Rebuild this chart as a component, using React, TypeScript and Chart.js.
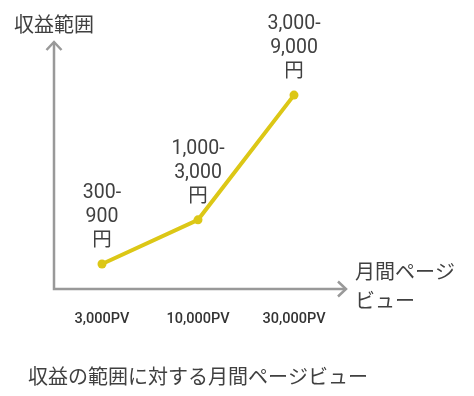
import React, { useEffect, useRef } from "react";
import { Chart, registerables } from "chart.js";

Chart.register(...registerables);

const categories = ["3,000PV", "10,000PV", "30,000PV"];
const revenueLevel = [1.01, 2.8, 7.85];
const revenueLow = ["300", "1,000", "3,000"];
const revenueHigh = ["900", "3,000", "9,000"];
const yAxisTitle = "収益範囲";
const xAxisTitleLines = ["月間ページ", "ビュー"];
const chartTitle = "収益の範囲に対する月間ページビュー";

const LINE_COLOR = "#DCC716";
const AXIS_COLOR = "#999999";
const TEXT_COLOR = "#404040";
const FONT = "Roboto, 'Noto Sans CJK JP', sans-serif";
const JP_FONT = "'Noto Sans CJK JP', Roboto, sans-serif";

const decorPlugin = {
  id: "decor",
  beforeDatasetsDraw(chart: any) {
    const { ctx, chartArea } = chart;
    const { left, right, top, bottom } = chartArea;
    ctx.save();
    ctx.strokeStyle = AXIS_COLOR;
    ctx.lineWidth = 2.5;
    ctx.lineJoin = "miter";
    ctx.beginPath();
    ctx.moveTo(left, top);
    ctx.lineTo(left, bottom);
    ctx.lineTo(right + 4, bottom);
    ctx.stroke();
    // arrowheads
    ctx.beginPath();
    ctx.moveTo(left - 7.5, top + 8);
    ctx.lineTo(left, top);
    ctx.lineTo(left + 7.5, top + 8);
    ctx.stroke();
    ctx.beginPath();
    ctx.moveTo(right + 4 - 8, bottom - 7.5);
    ctx.lineTo(right + 4, bottom);
    ctx.lineTo(right + 4 - 8, bottom + 7.5);
    ctx.stroke();
    ctx.restore();
  },
  afterDraw(chart: any) {
    const { ctx, chartArea, scales } = chart;
    const { left, right, bottom } = chartArea;
    const xs = scales.x;
    const ys = scales.y;
    ctx.save();
    ctx.fillStyle = TEXT_COLOR;
    ctx.textAlign = "center";
    ctx.textBaseline = "middle";

    // data labels
    ctx.font = `19.5px ${FONT}`;
    revenueLevel.forEach((v, i) => {
      const px = xs.getPixelForValue(i);
      const py = ys.getPixelForValue(v);
      const lines = [`${revenueLow[i]}-`, revenueHigh[i], "円"];
      lines.forEach((t, j) => {
        ctx.fillText(t, px, py - 22.5 - (lines.length - 1 - j) * 24);
      });
    });

    // x tick labels
    ctx.fillStyle = "#333333";
    ctx.font = `500 14.5px ${FONT}`;
    categories.forEach((c, i) => {
      ctx.fillText(c, xs.getPixelForValue(i), bottom + 30);
    });

    // y axis title
    ctx.fillStyle = TEXT_COLOR;
    ctx.font = `20px ${JP_FONT}`;
    ctx.fillText(yAxisTitle, left, 24);

    // x axis title
    ctx.textAlign = "left";
    xAxisTitleLines.forEach((t, j) => {
      ctx.fillText(t, 355, 271 + j * 29);
    });

    // chart title
    ctx.textAlign = "center";
    ctx.fillText(chartTitle, (left + right) / 2, 376);
    ctx.restore();
  },
};

export default function App() {
  const ref = useRef<HTMLCanvasElement>(null);
  useEffect(() => {
    if (!ref.current) return;
    const chart = new Chart(ref.current, {
      type: "line",
      data: {
        labels: categories,
        datasets: [
          {
            data: revenueLevel,
            borderColor: LINE_COLOR,
            backgroundColor: LINE_COLOR,
            borderWidth: 4,
            pointRadius: 4.5,
            pointBackgroundColor: LINE_COLOR,
            pointBorderWidth: 0,
            tension: 0,
          },
        ],
      },
      options: {
        responsive: false,
        animation: false,
        layout: { padding: { left: 54, right: 132, top: 42, bottom: 107 } },
        scales: {
          x: { type: "category", offset: true, display: false },
          y: { min: 0, max: 10, display: false },
        },
        plugins: {
          legend: { display: false },
          tooltip: { enabled: false },
          title: { display: false },
        },
      },
      plugins: [decorPlugin],
    });
    return () => chart.destroy();
  }, []);
  return (
    <div style={{ position: "absolute", left: 0, top: 0, width: 474, height: 396, background: "#fff" }}>
      <canvas ref={ref} width={474} height={396} style={{ width: 474, height: 396, display: "block" }} />
    </div>
  );
}
